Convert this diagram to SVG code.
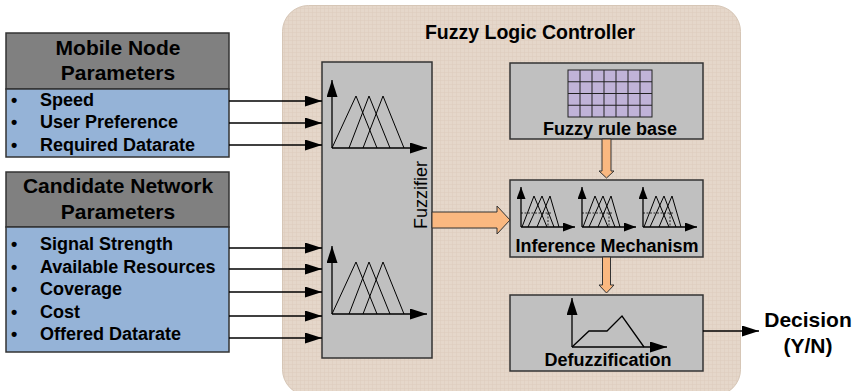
<svg xmlns="http://www.w3.org/2000/svg" width="855" height="391" viewBox="0 0 855 391">
<style>
text{font-family:"Liberation Sans",Arial,sans-serif;fill:#000}
.b{font-weight:bold}
.hdr{fill:#808080;stroke:#333;stroke-width:1.5}
.body{fill:#95b3d7;stroke:#333;stroke-width:1.5}
.box{fill:#c0c0c0;stroke:#333;stroke-width:1.5}
.ln{stroke:#000;stroke-width:1.3;fill:none}
.th{stroke:#000;stroke-width:1;fill:none}
.or{fill:#fab880;stroke:#333;stroke-width:1}
</style>
<defs>
<pattern id="tex" width="4" height="4" patternUnits="userSpaceOnUse">
<rect width="4" height="4" fill="#e5d7ca"/>
<path d="M0,0.5H4M0.5,0V4" stroke="#dccbbc" stroke-width="0.5"/>
</pattern>
<marker id="ahb" viewBox="0 0 10 10" refX="10" refY="5" markerWidth="17" markerHeight="11" markerUnits="userSpaceOnUse" orient="auto" preserveAspectRatio="none">
<path d="M0,0 L10,5 L0,10 z" fill="#000"/>
</marker>
<marker id="ahs" viewBox="0 0 10 10" refX="10" refY="5" markerWidth="12" markerHeight="9" markerUnits="userSpaceOnUse" orient="auto" preserveAspectRatio="none">
<path d="M0,0 L10,5 L0,10 z" fill="#000"/>
</marker>
<g id="mf">
<line x1="332" y1="148" x2="332" y2="80" class="ln" marker-end="url(#ahb)"/>
<line x1="332" y1="148" x2="427" y2="148" class="ln" marker-end="url(#ahb)"/>
<path d="M332,148 L356,96 L377,148 M349,148 L369,96 L390,148 M363,148 L383,96 L404,148" class="th"/>
</g>
<g id="mini">
<line x1="0" y1="40" x2="0" y2="0" class="ln" marker-end="url(#ahs)"/>
<line x1="0" y1="40" x2="54" y2="40" class="ln" marker-end="url(#ahs)"/>
<path d="M1,40 L13,9 L26,40 M7,40 L21,9 L33,40 M16,40 L29,9 L38,40" class="th"/>
<path d="M0,26 L30,26 M27,26 L27,40" stroke="#000" stroke-width="0.8" stroke-dasharray="2,1.5" fill="none"/>
</g>
</defs>

<g id="controller">
<rect x="282.5" y="5.5" width="458" height="390" rx="26" fill="url(#tex)" stroke="#d6c6b6"/>
<text x="530" y="39" class="b" font-size="19.5" text-anchor="middle">Fuzzy Logic Controller</text>
</g>

<g id="mobile-node">
<rect x="6" y="33" width="223" height="56" class="hdr"/>
<rect x="6" y="89" width="223" height="68" class="body"/>
<text x="118" y="55" class="b" font-size="21" text-anchor="middle">Mobile Node</text>
<text x="118" y="80" class="b" font-size="21" text-anchor="middle">Parameters</text>
<g class="b" font-size="18">
<text x="11" y="106">•</text><text x="40" y="106">Speed</text>
<text x="11" y="128">•</text><text x="40" y="128">User Preference</text>
<text x="11" y="151">•</text><text x="40" y="151">Required Datarate</text>
</g>
</g>

<g id="candidate-network">
<rect x="6" y="172" width="223" height="55" class="hdr"/>
<rect x="6" y="227" width="223" height="125" class="body"/>
<text x="118" y="193" class="b" font-size="21" text-anchor="middle">Candidate Network</text>
<text x="118" y="219" class="b" font-size="21" text-anchor="middle">Parameters</text>
<g class="b" font-size="18">
<text x="11" y="250">•</text><text x="40" y="250">Signal Strength</text>
<text x="11" y="273">•</text><text x="40" y="273">Available Resources</text>
<text x="11" y="295">•</text><text x="40" y="295">Coverage</text>
<text x="11" y="318">•</text><text x="40" y="318">Cost</text>
<text x="11" y="340">•</text><text x="40" y="340">Offered Datarate</text>
</g>
</g>

<g id="fuzzifier">
<rect x="322" y="62" width="110" height="296" class="box"/>
<use href="#mf"/>
<use href="#mf" transform="translate(0,166)"/>
<text transform="translate(427,195) rotate(-90)" font-size="18" text-anchor="middle">Fuzzifier</text>
</g>

<g id="rule-base">
<rect x="510" y="63" width="193" height="76" class="box"/>
<rect x="568" y="70" width="84" height="47" fill="#c0b3d8" stroke="#222" stroke-width="1"/>
<path d="M580,70V117M592,70V117M604,70V117M616,70V117M628,70V117M640,70V117M568,81.75H652M568,93.5H652M568,105.25H652" stroke="#222" stroke-width="1" fill="none"/>
<text x="610" y="135" class="b" font-size="18" text-anchor="middle">Fuzzy rule base</text>
</g>

<g id="inference">
<rect x="510" y="180" width="193" height="77" class="box"/>
<use href="#mini" transform="translate(521,187)"/>
<use href="#mini" transform="translate(582,187)"/>
<use href="#mini" transform="translate(643,187)"/>
<text x="607" y="252" class="b" font-size="18" text-anchor="middle">Inference Mechanism</text>
</g>

<g id="defuzzification">
<rect x="510" y="295" width="193" height="76" class="box"/>
<line x1="572" y1="347" x2="572" y2="298" class="ln" marker-end="url(#ahb)"/>
<line x1="572" y1="347" x2="667" y2="347" class="ln" marker-end="url(#ahb)"/>
<path d="M572,347 L589,331 L607,331 L622,316 L644,347" class="ln"/>
<text x="608" y="366" class="b" font-size="18" text-anchor="middle">Defuzzification</text>
</g>

<g id="decision">
<text x="808" y="327" class="b" font-size="21" text-anchor="middle">Decision</text>
<text x="808" y="353" class="b" font-size="21" text-anchor="middle">(Y/N)</text>
</g>

<g id="connectors">
<line x1="229" y1="101" x2="322" y2="101" class="ln" marker-end="url(#ahb)"/>
<line x1="229" y1="123" x2="322" y2="123" class="ln" marker-end="url(#ahb)"/>
<line x1="229" y1="145" x2="322" y2="145" class="ln" marker-end="url(#ahb)"/>
<line x1="229" y1="248" x2="322" y2="248" class="ln" marker-end="url(#ahb)"/>
<line x1="229" y1="269" x2="322" y2="269" class="ln" marker-end="url(#ahb)"/>
<line x1="229" y1="292" x2="322" y2="292" class="ln" marker-end="url(#ahb)"/>
<line x1="229" y1="316" x2="322" y2="316" class="ln" marker-end="url(#ahb)"/>
<line x1="229" y1="338" x2="322" y2="338" class="ln" marker-end="url(#ahb)"/>
<path d="M432,212 H497 V206 L510,220 L497,234 V228 H432 Z" class="or"/>
<path d="M602,139 V171 H599 L606.5,178 L614,171 H611 V139 Z" class="or"/>
<path d="M602.5,257 V285 H599 L606.5,293 L614,285 H610.5 V257 Z" class="or"/>
<line x1="703" y1="331" x2="759" y2="331" class="ln" marker-end="url(#ahb)"/>
</g>
</svg>
